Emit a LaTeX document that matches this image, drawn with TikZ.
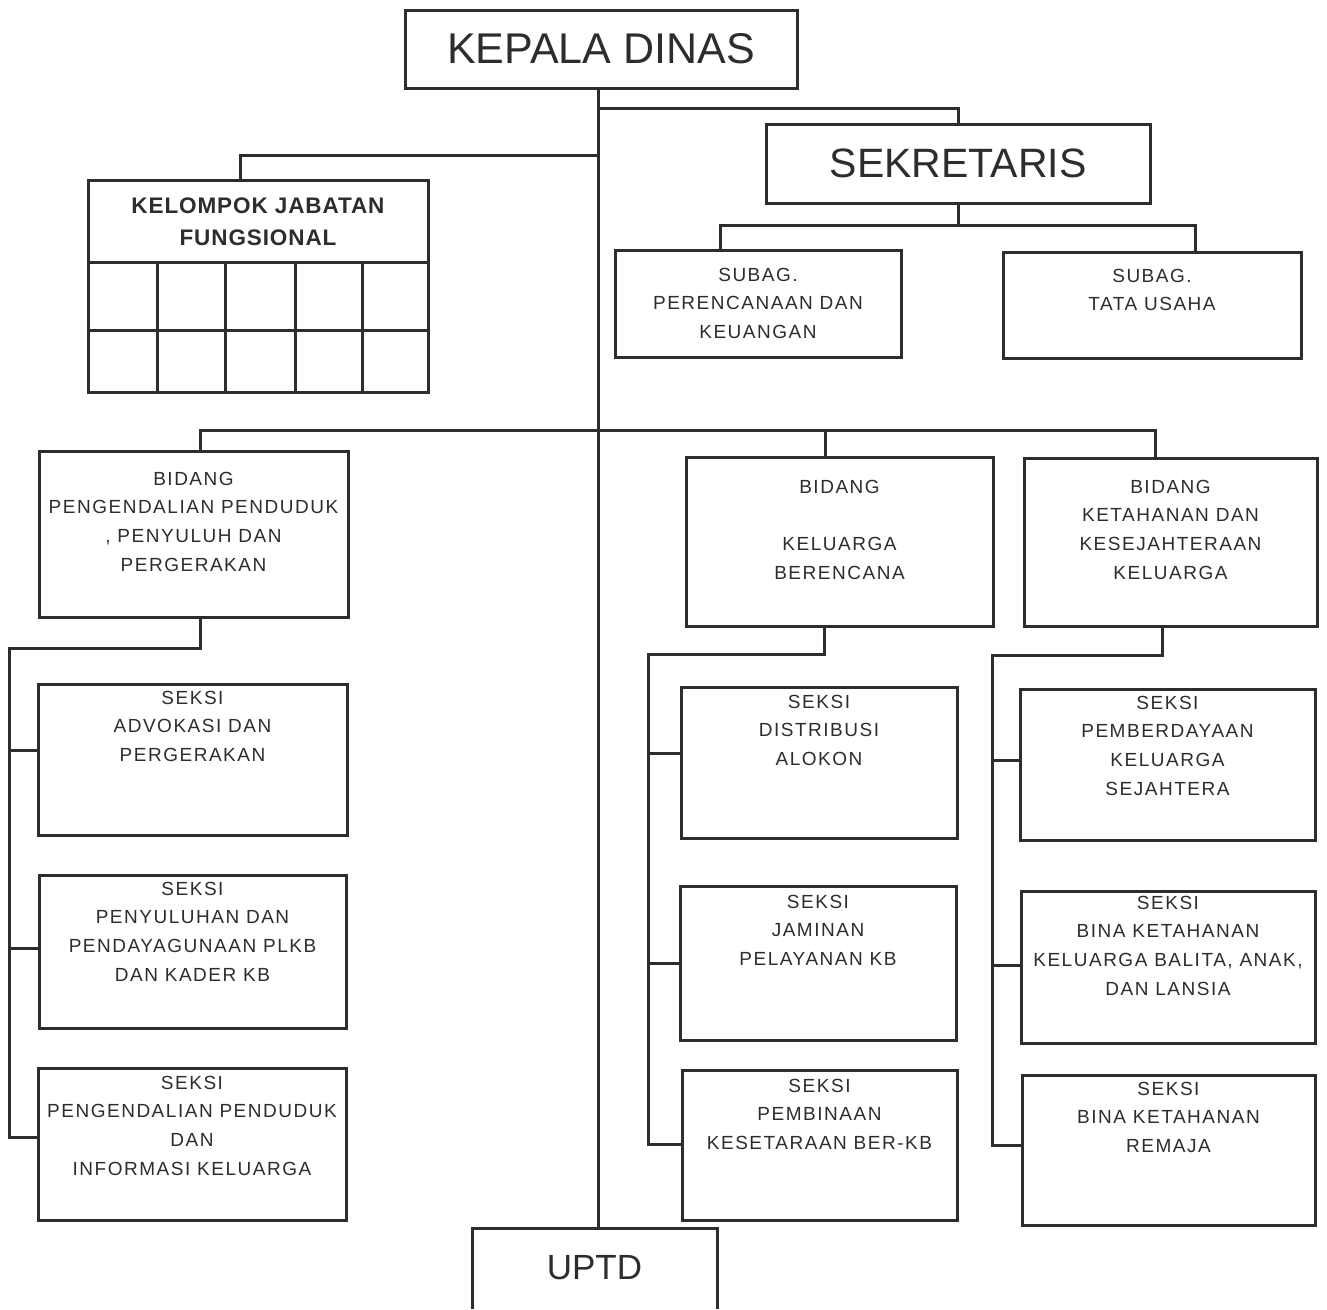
\documentclass[tikz,border=0pt]{standalone}
\usepackage{fontspec}
\setmainfont{Liberation Sans}
\newfontfamily\spacedfont{Liberation Sans}[LetterSpace=8]
\newfontfamily\boldspaced{Liberation Sans}[LetterSpace=4]
\definecolor{ink}{RGB}{45,45,45}
\newcommand\orgbox[5]{%
  \node[box, minimum width={(#4-#2)*1pt}, minimum height={(#5-#3)*1pt}] (#1) at ({(#2+#4)/2},{(#3+#5)/2}) {};}
\tikzset{
  box/.style={draw=ink, line width=3pt, rectangle, inner sep=0pt, outer sep=0pt},
  txt/.style={inner sep=0pt, outer sep=0pt, align=center, anchor=north, text=ink,
    font=\spacedfont\fontsize{19}{28.7}\selectfont},
  big/.style={inner sep=0pt, text=ink, font=\fontsize{41}{48}\selectfont},
  conn/.style={draw=ink, line width=3pt},
}
\begin{document}
\begin{tikzpicture}[x=1pt,y=-1pt]
\useasboundingbox (0,0) rectangle (1327,1309);
\fill[white] (0,0) rectangle (1327,1309);

% top level
\orgbox{kd}{405}{10}{797}{88}
\node[big, font=\fontsize{43}{50}\selectfont] (kdt) at (kd.center) {KEPALA DINAS};
\orgbox{sek}{766}{124}{1150}{203}
\node[big] (sekt) at (sek.center) {SEKRETARIS};
\orgbox{sbA}{615}{250}{901}{357}
\node[txt] (sbAt) at (sbA.north |- 0,268) {SUBAG.\\PERENCANAAN DAN\\KEUANGAN};
\orgbox{sbB}{1003}{252}{1301}{358}
\node[txt] (sbBt) at (sbB.north |- 0,269) {SUBAG.\\TATA USAHA};

% kelompok jabatan fungsional
\orgbox{kjf}{88}{180}{428}{392}
\node[txt, font=\boldspaced\bfseries\fontsize{22.5}{32}\selectfont] (kjft) at (kjf.north |- 0,198) {KELOMPOK JABATAN\\FUNGSIONAL};
\draw[conn] (kjf.west |- 0,262) -- (kjf.east |- 0,262);
\draw[conn] (kjf.west |- 0,330) -- (kjf.east |- 0,330);
\foreach \cx in {157,225,295,362} \draw[conn] (\cx,262) -- (\cx,0 |- kjf.south);

% UPTD (open at page bottom)
\node[minimum width=245pt, minimum height=81pt, inner sep=0pt, outer sep=0pt] (uptd) at (594.5,1268.5) {};
\draw[conn] (uptd.south west) -- (uptd.north west) -- (uptd.north east) -- (uptd.south east);
\node[big, font=\fontsize{35}{40}\selectfont] (uptdt) at (594.5,1268) {UPTD};

% bidang
\orgbox{bpp}{39}{451}{348}{617}
\node[txt] (bppt) at (bpp.north |- 0,472) {BIDANG\\PENGENDALIAN PENDUDUK\\, PENYULUH DAN\\PERGERAKAN};
\orgbox{bkb}{686}{457}{993}{626}
\node[txt] (bkbt) at (bkb.north |- 0,480) {BIDANG\\\mbox{}\\KELUARGA\\BERENCANA};
\orgbox{bkk}{1024}{458}{1317}{626}
\node[txt] (bkkt) at (bkk.north |- 0,480) {BIDANG\\KETAHANAN DAN\\KESEJAHTERAAN\\KELUARGA};

% seksi left
\orgbox{s1}{38}{684}{347}{835}
\node[txt] (s1t) at (s1.north |- 0,691) {SEKSI\\ADVOKASI DAN\\PERGERAKAN};
\orgbox{s2}{39}{875}{346}{1028}
\node[txt] (s2t) at (s2.north |- 0,882) {SEKSI\\PENYULUHAN DAN\\PENDAYAGUNAAN PLKB\\DAN KADER KB};
\orgbox{s3}{38}{1068}{346}{1220}
\node[txt] (s3t) at (s3.north |- 0,1076) {SEKSI\\PENGENDALIAN PENDUDUK\\DAN\\INFORMASI KELUARGA};

% seksi middle
\orgbox{s4}{681}{687}{957}{838}
\node[txt] (s4t) at (s4.north |- 0,695) {SEKSI\\DISTRIBUSI\\ALOKON};
\orgbox{s5}{680}{886}{956}{1040}
\node[txt] (s5t) at (s5.north |- 0,895) {SEKSI\\JAMINAN\\PELAYANAN KB};
\orgbox{s6}{682}{1070}{957}{1220}
\node[txt] (s6t) at (s6.north |- 0,1079) {SEKSI\\PEMBINAAN\\KESETARAAN BER-KB};

% seksi right
\orgbox{s7}{1020}{689}{1315}{840}
\node[txt] (s7t) at (s7.north |- 0,696) {SEKSI\\PEMBERDAYAAN\\KELUARGA\\SEJAHTERA};
\orgbox{s8}{1021}{891}{1315}{1043}
\node[txt] (s8t) at (s8.north |- 0,896) {SEKSI\\BINA KETAHANAN\\KELUARGA BALITA, ANAK,\\DAN LANSIA};
\orgbox{s9}{1022}{1075}{1315}{1225}
\node[txt] (s9t) at (s9.north |- 0,1082) {SEKSI\\BINA KETAHANAN\\REMAJA};

% connectors
\coordinate (tk) at (598,0 |- kd.south);
\draw[conn] (tk) -- (tk |- uptd.north);
\draw[conn] (598,108) -| (sek.north);
\draw[conn] (sek.south) -- (sek.south |- 0,225);
\draw[conn] (720,0 |- sbA.north) |- (1195,225) -- (1195,0 |- sbB.north);
\draw[conn] (598,155) -| (240,0 |- kjf.north);
\draw[conn] (200,0 |- bpp.north) |- (1155,430) -- (1155,0 |- bkk.north);
\draw[conn] (825,430) -- (825,0 |- bkb.north);

\draw[conn] (200,0 |- bpp.south) |- (9,648) -- (9,1137) -- (s3.west |- 0,1137);
\draw[conn] (9,750) -- (s1.west |- 0,750);
\draw[conn] (9,948) -- (s2.west |- 0,948);

\draw[conn] (824,0 |- bkb.south) |- (648,654) -- (648,1144) -- (s6.west |- 0,1144);
\draw[conn] (648,753) -- (s4.west |- 0,753);
\draw[conn] (648,963) -- (s5.west |- 0,963);

\draw[conn] (1162,0 |- bkk.south) |- (992,655) -- (992,1145) -- (s9.west |- 0,1145);
\draw[conn] (992,760) -- (s7.west |- 0,760);
\draw[conn] (992,965) -- (s8.west |- 0,965);
\end{tikzpicture}
\end{document}
